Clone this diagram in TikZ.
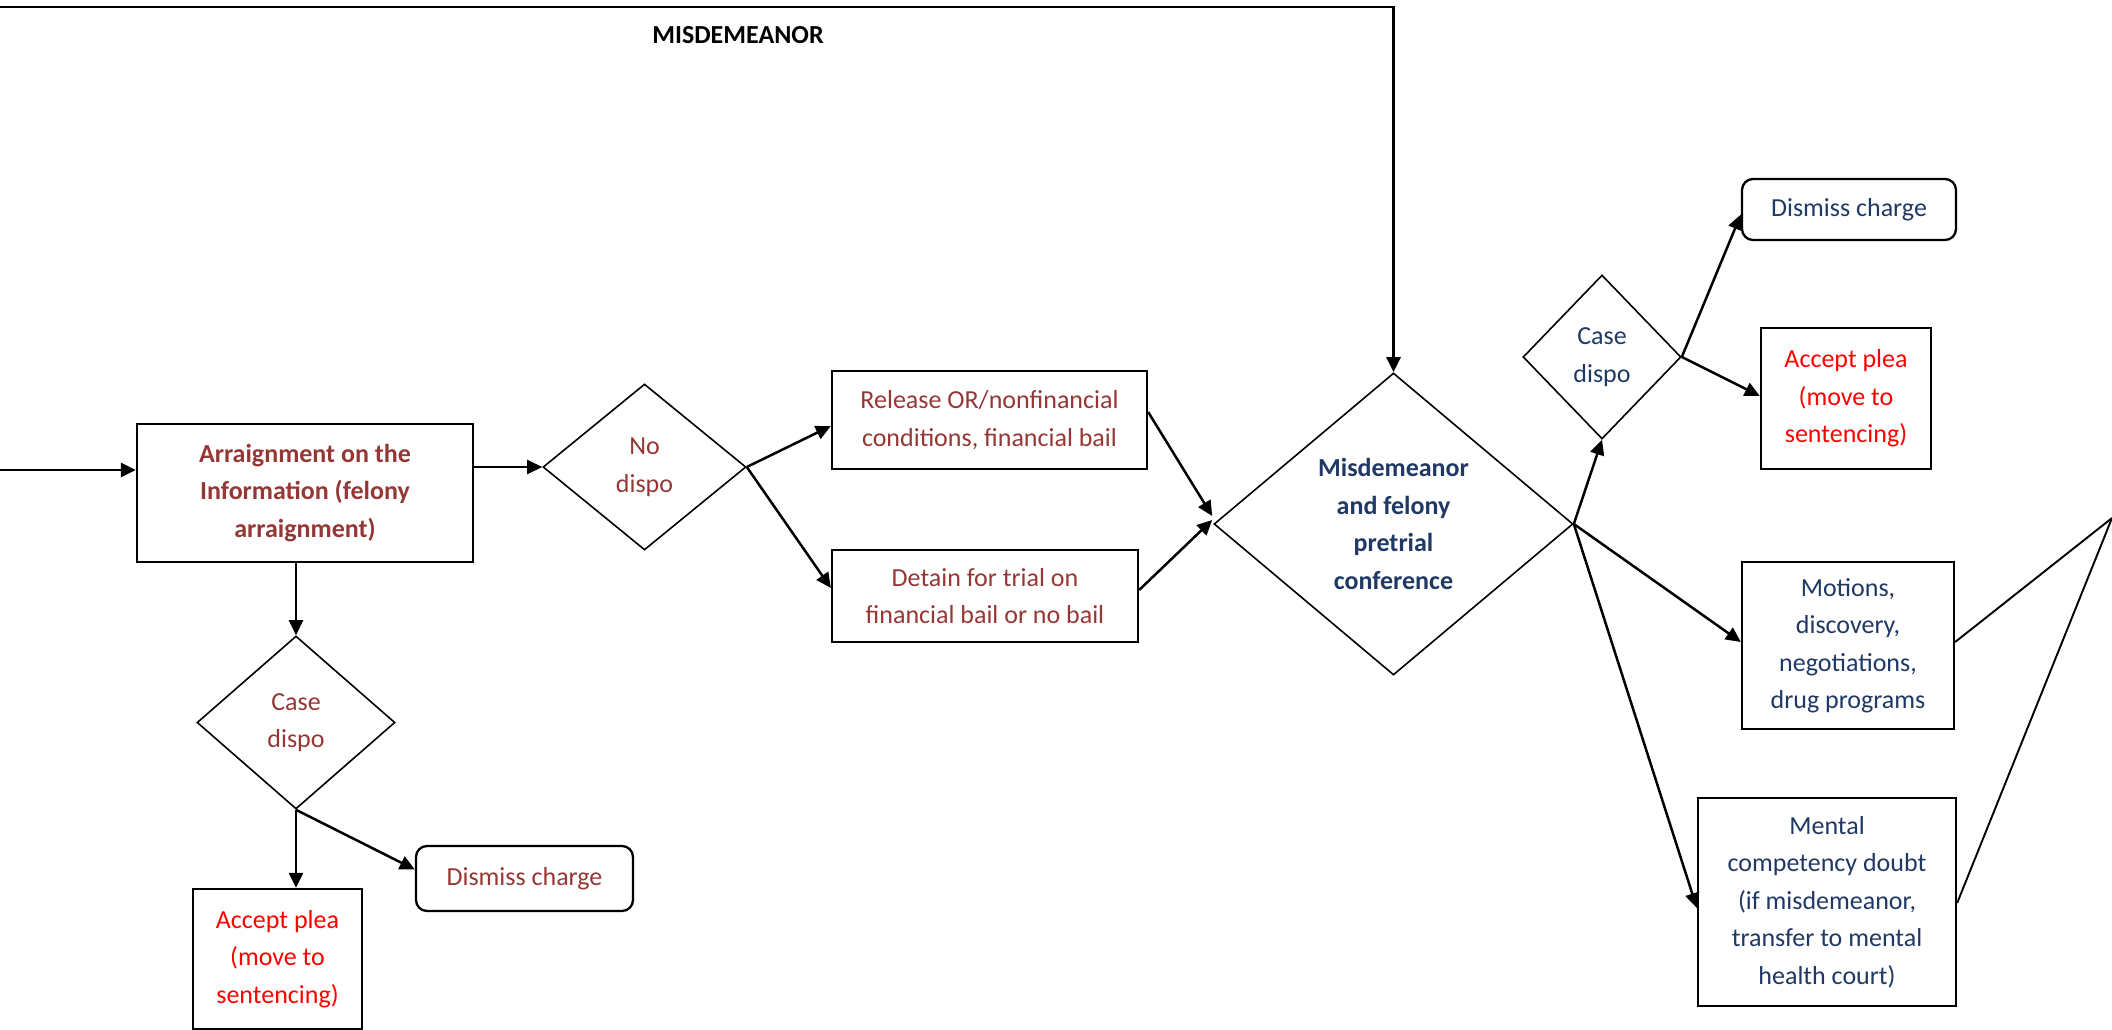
\documentclass[tikz,border=0pt]{standalone}
\usepackage{fontspec}
\setmainfont{Carlito}
\usetikzlibrary{shapes.geometric,arrows.meta,calc}

\definecolor{felony}{RGB}{149,55,53}
\definecolor{plea}{RGB}{255,0,0}
\definecolor{navy}{RGB}{31,56,100}

\begin{document}
\begin{tikzpicture}[x=1pt,y=-1pt,
  txt/.style={font=\fontsize{26}{37.5}\selectfont, align=center},
  boldtxt/.style={font=\fontsize{26}{37.5}\selectfont\bfseries, align=center},
  box/.style={draw, line width=2.3pt, rectangle, inner sep=0pt},
  rbox/.style={box, rounded corners=11pt},
  decision/.style={draw, line width=1.6pt, diamond, inner sep=0pt},
  flow/.style={line width=2.5pt, -{Triangle[length=15pt,width=14pt]}},
  link/.style={line width=1.9pt},
]
\useasboundingbox (0,0) rectangle (2112,1030);

% felony arraignment branch
\node[box, boldtxt, text=felony, minimum width=336pt, minimum height=138pt]
  (arr) at (305,493) {Arraignment on the\\Information (felony\\arraignment)};
\node[decision, txt, text=felony, minimum width=203pt, minimum height=166pt]
  (nod) at (644.5,467) {No\\dispo};
\node[box, txt, text=felony, minimum width=315pt, minimum height=98pt]
  (rel) at (989.5,420) {Release OR/nonfinancial\\conditions, financial bail};
\node[box, txt, text=felony, minimum width=306pt, minimum height=92pt]
  (det) at (985,596) {Detain for trial on\\financial bail or no bail};
\node[decision, txt, text=felony, minimum width=198pt, minimum height=173pt]
  (cdl) at (296,722.5) {Case\\dispo};
\node[box, txt, text=plea, minimum width=169pt, minimum height=140pt]
  (apl) at (277.5,959) {Accept plea\\(move to\\sentencing)};
\node[rbox, txt, text=felony, minimum width=217pt, minimum height=65pt]
  (dml) at (524.5,878.5) {Dismiss charge};

% pretrial conference and its outcomes
\node[decision, boldtxt, text=navy, minimum width=359pt, minimum height=302pt]
  (mis) at (1393.5,524) {Misdemeanor\\and felony\\pretrial\\conference};
\node[decision, txt, text=navy, minimum width=158pt, minimum height=164pt]
  (cdr) at (1602,357) {Case\\dispo};
\node[rbox, txt, text=navy, minimum width=214pt, minimum height=61pt]
  (dmr) at (1849,209.5) {Dismiss charge};
\node[box, txt, text=plea, minimum width=170pt, minimum height=141pt]
  (apr) at (1846,398.5) {Accept plea\\(move to\\sentencing)};
\node[box, txt, text=navy, minimum width=212pt, minimum height=167pt]
  (mot) at (1848,645.5) {Motions,\\discovery,\\negotiations,\\drug programs};
\node[box, txt, text=navy, minimum width=258pt, minimum height=208pt]
  (men) at (1827,902) {Mental\\competency doubt\\(if misdemeanor,\\transfer to mental\\health court)};

\node[boldtxt] (lbl) at (738,35) {MISDEMEANOR};

\coordinate (in) at (0,470);
\coordinate (tl) at (0,7);
\coordinate (apex) at (2112,518);

% connectors
\draw[flow] (in) -- (in -| arr.west);
\draw[flow] (nod.west -| arr.east) -- (nod.west);
\draw[flow] (cdl.north |- arr.south) -- (cdl.north);
\draw[flow] (cdl.south) -- (cdl.south |- apl.north);
\draw[flow] (cdl.south) -- ([yshift=9pt]dml.west);
\draw[flow] (nod.east) -- ([yshift=-6pt]rel.west);
\draw[flow] (nod.east) -- ([yshift=8pt]det.west);
\draw[flow] ([yshift=8pt]rel.east) -- ([xshift=-1pt,yshift=8pt]mis.west);
\draw[flow] ([yshift=6pt]det.east) -- ([xshift=-1pt,yshift=4pt]mis.west);
\draw[flow, line width=2.8pt] (tl) -- (tl -| mis.north) -- (mis.north);
\draw[flow] (mis.east) -- (cdr.south);
\draw[flow] (mis.east) -- ([yshift=3.5pt]mot.west);
\draw[flow] (mis.east) -- ([yshift=-6pt]men.west);
\draw[flow] (cdr.east) -- ([yshift=-5pt]dmr.west);
\draw[flow] (cdr.east) -- ([yshift=2.5pt]apr.west);
\draw[link] ([yshift=3.5pt]mot.east) -- (apex);
\draw[link] ([yshift=-1pt]men.east) -- (apex);
\end{tikzpicture}
\end{document}
